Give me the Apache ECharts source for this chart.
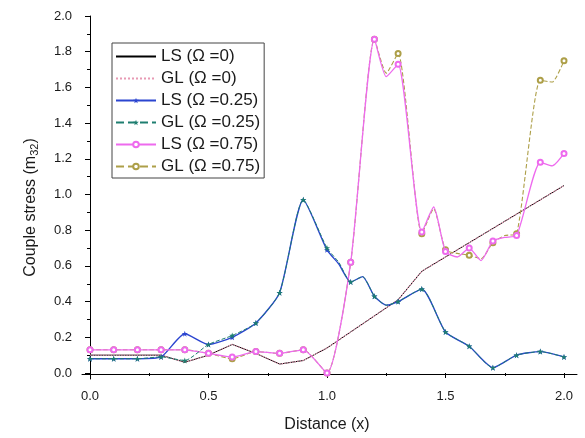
<!DOCTYPE html>
<html><head><meta charset="utf-8">
<script src="https://cdn.jsdelivr.net/npm/echarts@6/dist/echarts.min.js"></script>
<style>html,body{margin:0;padding:0;background:#fff}#c{width:585px;height:438px}</style>
</head><body><div id="c"></div>
<script>
// ---- data ----
const seriesNames = ['LS (Ω =0)', 'GL (Ω =0)', 'LS (Ω =0.25)', 'GL (Ω =0.25)', 'LS (Ω =0.75)', 'GL (Ω =0.75)'];
const xTickValues = [0, 0.5, 1.0, 1.5, 2.0];
const yTickValues = [0, 0.2, 0.4, 0.6, 0.8, 1.0, 1.2, 1.4, 1.6, 1.8, 2.0];

const xOmega0  = [0, 0.1, 0.2, 0.3, 0.4, 0.5, 0.6, 0.7, 0.8, 0.9, 1.0, 1.1, 1.2, 1.3, 1.4, 1.5, 1.6, 1.7, 1.8, 1.9, 2.0];
const lsOmega0 = [0.10, 0.10, 0.10, 0.10, 0.06, 0.10, 0.16, 0.11, 0.05, 0.07, 0.14, 0.23, 0.32, 0.41, 0.57, 0.65, 0.73, 0.81, 0.89, 0.97, 1.05];
const glOmega0 = [0.10, 0.10, 0.10, 0.10, 0.06, 0.10, 0.16, 0.11, 0.05, 0.07, 0.14, 0.23, 0.32, 0.41, 0.57, 0.65, 0.73, 0.81, 0.89, 0.97, 1.05];

const xOmega025  = [0, 0.1, 0.2, 0.3, 0.4, 0.5, 0.6, 0.7, 0.8, 0.9, 1.0, 1.05, 1.1, 1.15, 1.2, 1.25, 1.3, 1.4, 1.5, 1.6, 1.7, 1.8, 1.9, 2.0];
const lsOmega025 = [0.08, 0.08, 0.08, 0.09, 0.22, 0.16, 0.20, 0.28, 0.45, 0.97, 0.69, 0.61, 0.51, 0.54, 0.43, 0.38, 0.40, 0.47, 0.23, 0.15, 0.03, 0.10, 0.12, 0.09];
const glOmega025 = [0.08, 0.08, 0.08, 0.09, 0.07, 0.16, 0.21, 0.28, 0.45, 0.97, 0.70, 0.62, 0.51, 0.54, 0.43, 0.38, 0.40, 0.47, 0.23, 0.15, 0.03, 0.10, 0.12, 0.09];

const xLs075  = [0, 0.1, 0.2, 0.3, 0.4, 0.5, 0.6, 0.7, 0.8, 0.9, 1.0, 1.1, 1.2, 1.25, 1.3, 1.4, 1.45, 1.5, 1.55, 1.6, 1.65, 1.7, 1.75, 1.8, 1.9, 1.95, 2.0];
const lsOmega075 = [0.13, 0.13, 0.13, 0.13, 0.13, 0.11, 0.09, 0.12, 0.11, 0.13, 0.00, 0.62, 1.87, 1.66, 1.73, 0.79, 0.93, 0.68, 0.65, 0.70, 0.63, 0.74, 0.76, 0.77, 1.18, 1.16, 1.23];
const xGl075  = [0, 0.1, 0.2, 0.3, 0.4, 0.5, 0.6, 0.7, 0.8, 0.9, 1.0, 1.1, 1.2, 1.25, 1.3, 1.4, 1.45, 1.5, 1.55, 1.6, 1.65, 1.7, 1.75, 1.8, 1.9, 1.95, 2.0];
const glOmega075 = [0.13, 0.13, 0.13, 0.13, 0.13, 0.11, 0.08, 0.12, 0.11, 0.13, 0.00, 0.62, 1.87, 1.68, 1.79, 0.78, 0.92, 0.69, 0.67, 0.66, 0.64, 0.73, 0.77, 0.78, 1.64, 1.63, 1.75];

// ---- build ----
const FONT = 'Liberation Sans, Arial, sans-serif';
const TXT = '#1a1a1a';
function onGrid(x) { return Math.abs(x * 10 - Math.round(x * 10)) < 1e-6; }
function build(xs, ys) {
  return xs.map((x, i) => onGrid(x) ? { value: [x, ys[i]] } : { value: [x, ys[i]], symbol: 'none' });
}
const STAR = 'path://M0,-10L2.35,-3.24L9.51,-3.09L3.8,1.24L5.88,8.09L0,4L-5.88,8.09L-3.8,1.24L-9.51,-3.09L-2.35,-3.24Z';

const chart = echarts.init(document.getElementById('c'), null, { renderer: 'canvas' });
const base = { type: 'line', xAxisIndex: 1, yAxisIndex: 1, clip: false, animation: false };
chart.setOption({
  backgroundColor: '#ffffff',
  animation: false,
  grid: [
    { left: 82, right: 8, top: 16, bottom: 59 },
    { left: 90, right: 21, top: 16, bottom: 64 }
  ],
  xAxis: [
    { type: 'value', gridIndex: 0, min: -0.0338, max: 2.055,
      axisLine: { show: true, lineStyle: { color: '#000', width: 1 } },
      axisTick: { show: false }, axisLabel: { show: false }, splitLine: { show: false } },
    { type: 'value', gridIndex: 1, min: 0, max: 2, interval: 0.5, offset: 5,
      axisLine: { show: false },
      axisTick: { show: true, inside: false, length: 5, lineStyle: { color: '#000' } },
      minorTick: { show: true, splitNumber: 2, length: 3, lineStyle: { color: '#000' } },
      axisLabel: { show: true, margin: 12, fontSize: 13, color: TXT, fontFamily: FONT,
        customValues: xTickValues, formatter: v => v.toFixed(1) },
      splitLine: { show: false },
      name: 'Distance (x)', nameLocation: 'middle', nameGap: 39,
      nameTextStyle: { fontSize: 16, color: TXT, fontFamily: FONT } }
  ],
  yAxis: [
    { type: 'value', gridIndex: 0, min: -0.028, max: 2.0,
      axisLine: { show: true, lineStyle: { color: '#000', width: 1 } },
      axisTick: { show: false }, axisLabel: { show: false }, splitLine: { show: false } },
    { type: 'value', gridIndex: 1, min: 0, max: 2, interval: 0.2, offset: 8,
      axisLine: { show: false },
      axisTick: { show: true, inside: false, length: 5, lineStyle: { color: '#000' } },
      minorTick: { show: true, splitNumber: 2, length: 3, lineStyle: { color: '#000' } },
      axisLabel: { show: true, margin: 10, fontSize: 13, color: TXT, fontFamily: FONT,
        customValues: yTickValues, formatter: v => v.toFixed(1) },
      splitLine: { show: false },
      name: '{a|Couple stress (m}{s|32}{a|)}', nameLocation: 'middle', nameRotate: 90, nameGap: 42,
      nameTextStyle: { color: TXT, fontFamily: FONT, padding: [0, 26, 0, 0],
        rich: { a: { fontSize: 16, color: TXT, fontFamily: FONT },
                s: { fontSize: 11, color: TXT, fontFamily: FONT, padding: [8, 0, 0, 0] } } } }
  ],
  legend: {
    orient: 'vertical', left: 112, top: 43,
    itemWidth: 40, itemHeight: 7, itemGap: 5,
    padding: [5, 4, 3, 3],
    borderColor: '#444', borderWidth: 1, backgroundColor: '#fff',
    textStyle: { fontSize: 17, color: TXT, fontFamily: FONT },
    data: [
      { name: seriesNames[0], itemStyle: { opacity: 0 } },
      { name: seriesNames[1], itemStyle: { opacity: 0 } },
      { name: seriesNames[2] },
      { name: seriesNames[3] },
      { name: seriesNames[4] },
      { name: seriesNames[5] }
    ]
  },
  series: [
    Object.assign({}, base, { name: seriesNames[0], data: build(xOmega0, lsOmega0), symbol: 'none',
      color: '#000000', lineStyle: { color: '#000000', width: 1 }, z: 3 }),
    Object.assign({}, base, { name: seriesNames[1], data: build(xOmega0, glOmega0), symbol: 'none',
      color: '#e89ab4', lineStyle: { color: '#e89ab4', width: 1.3, type: 'dotted' }, z: 4 }),
    Object.assign({}, base, { name: seriesNames[2], data: build(xOmega025, lsOmega025), symbol: STAR, symbolSize: 6, smooth: 0.2,
      color: '#2b45d0', itemStyle: { color: '#2b45d0' }, lineStyle: { color: '#2b45d0', width: 1.4 }, z: 6 }),
    Object.assign({}, base, { name: seriesNames[3], data: build(xOmega025, glOmega025), symbol: STAR, symbolSize: 6, smooth: 0.2,
      color: '#1e7e70', itemStyle: { color: '#1e7e70' }, lineStyle: { color: '#1e7e70', width: 1, type: 'dashed' }, z: 7 }),
    Object.assign({}, base, { name: seriesNames[4], data: build(xLs075, lsOmega075), symbol: 'emptyCircle', symbolSize: 5, smooth: 0.2,
      color: '#ee6aee', itemStyle: { color: '#ee6aee', borderColor: '#ee6aee' }, lineStyle: { color: '#ee6aee', width: 1.3 }, z: 6 }),
    Object.assign({}, base, { name: seriesNames[5], data: build(xGl075, glOmega075), symbol: 'emptyCircle', symbolSize: 5, smooth: 0.2,
      color: '#ad9f48', itemStyle: { color: '#ad9f48', borderColor: '#ad9f48' }, lineStyle: { color: '#ad9f48', width: 1.1, type: 'dashed' }, z: 5 })
  ]
});
</script>
</body></html>
